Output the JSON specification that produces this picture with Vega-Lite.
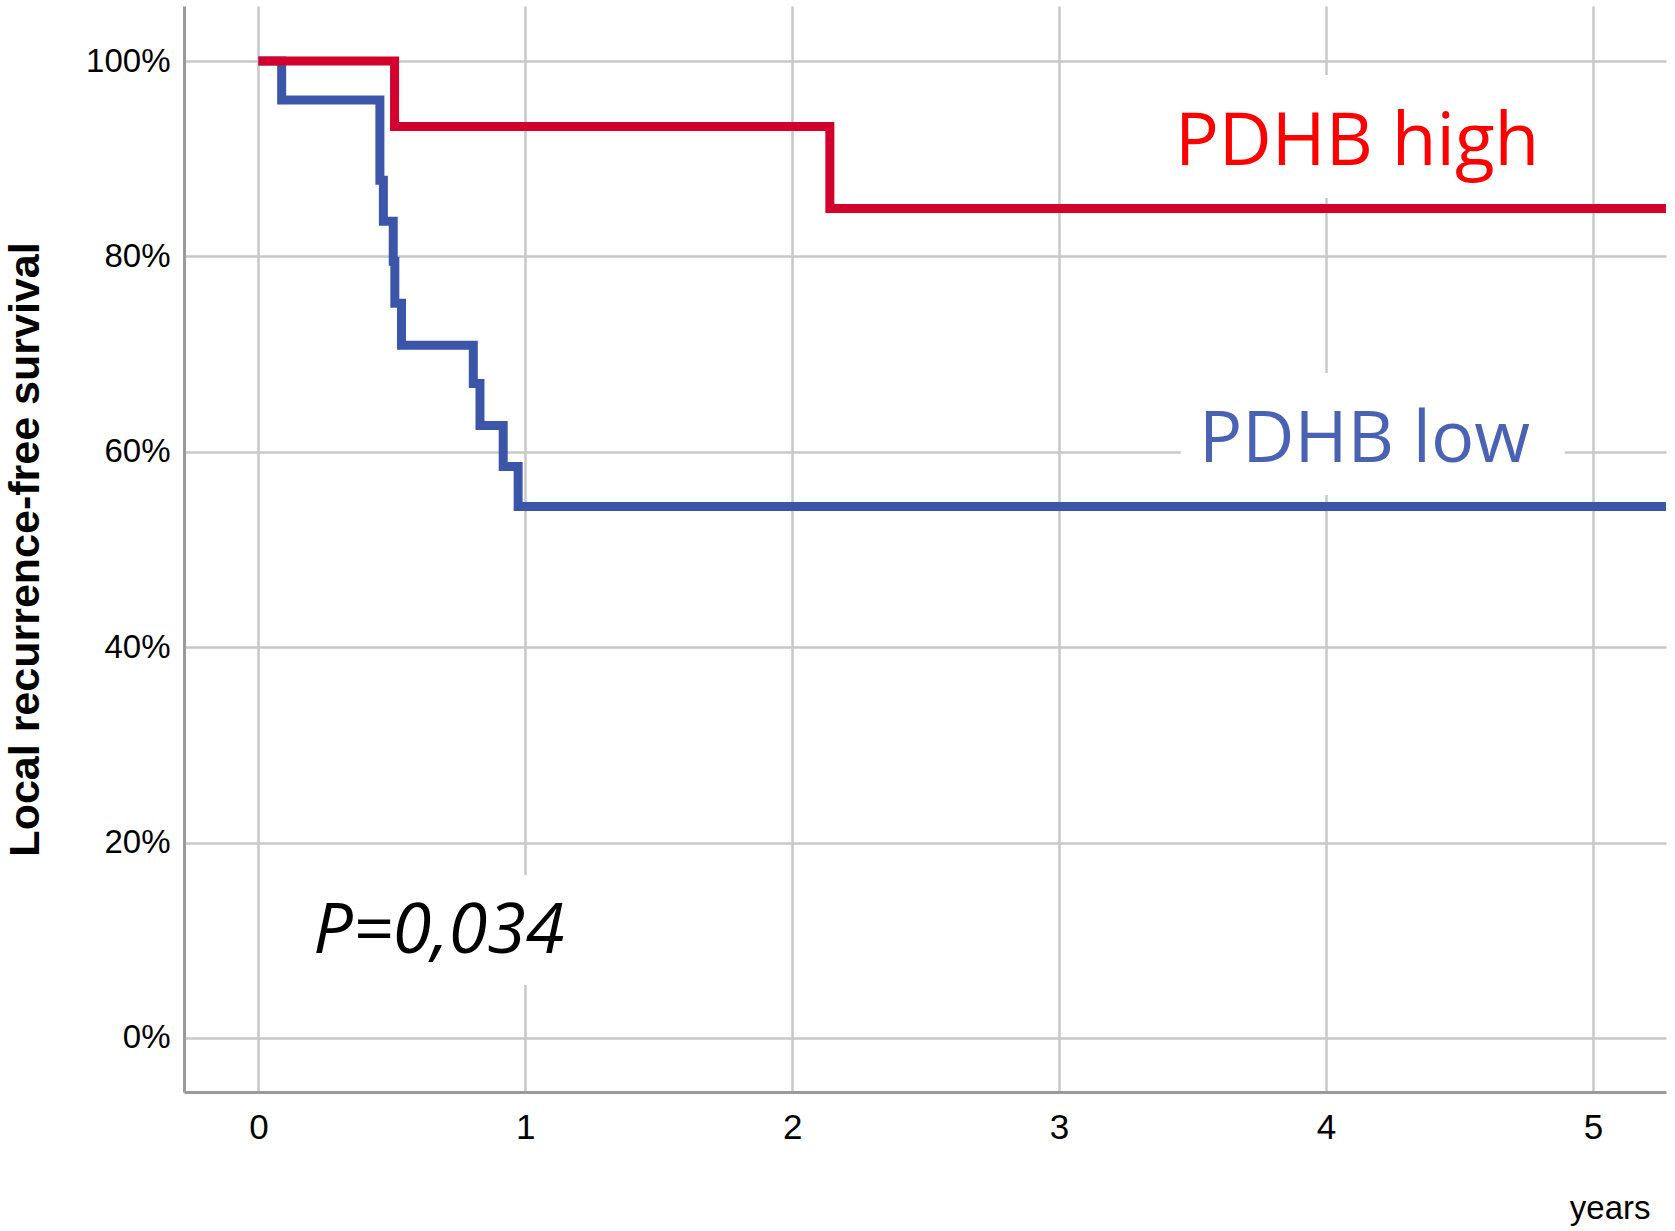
{
  "$schema": "https://vega.github.io/schema/vega-lite/v6.json",
  "width": 1482,
  "height": 1086,
  "autosize": {"type": "none"},
  "padding": {"left": 184, "top": 6, "right": 9, "bottom": 139},
  "background": "white",
  "config": {
    "view": {"stroke": null},
    "axis": {
      "gridColor": "#c8c8c8",
      "gridWidth": 2.5,
      "domainColor": "#9a9a9a",
      "domainWidth": 3,
      "ticks": false,
      "labelFont": "Liberation Sans",
      "labelColor": "#000000",
      "titleFont": "Liberation Sans",
      "titleColor": "#000000"
    }
  },
  "datasets": {
    "curves": [
      {"group": "low", "t": 0, "s": 1},
      {"group": "low", "t": 0.087, "s": 0.96},
      {"group": "low", "t": 0.455, "s": 0.878},
      {"group": "low", "t": 0.468, "s": 0.836},
      {"group": "low", "t": 0.505, "s": 0.795},
      {"group": "low", "t": 0.511, "s": 0.752},
      {"group": "low", "t": 0.536, "s": 0.709},
      {"group": "low", "t": 0.805, "s": 0.67},
      {"group": "low", "t": 0.83, "s": 0.627},
      {"group": "low", "t": 0.917, "s": 0.585},
      {"group": "low", "t": 0.973, "s": 0.544},
      {"group": "low", "t": 5.274, "s": 0.544},
      {"group": "high", "t": 0, "s": 1},
      {"group": "high", "t": 0.51, "s": 0.933},
      {"group": "high", "t": 2.141, "s": 0.849},
      {"group": "high", "t": 5.274, "s": 0.849}
    ],
    "boxes": [
      {"x": 3.378, "x2": 4.876, "y": 0.9857, "y2": 0.8598},
      {"x": 3.456, "x2": 4.895, "y": 0.6807, "y2": 0.5558},
      {"x": 0.156, "x2": 1.204, "y": 0.1668, "y2": 0.0542}
    ],
    "labels": [
      {"text": "PDHB high", "x": 3.434, "y": 0.8936, "kind": "high"},
      {"text": "PDHB low", "x": 3.524, "y": 0.5899, "kind": "low"}
    ],
    "pvalue": [
      {"text": "P=0,034", "x": 0.205, "y": 0.087}
    ]
  },
  "layer": [
    {
      "data": {"name": "boxes"},
      "mark": {"type": "rect", "fill": "white", "stroke": null},
      "encoding": {
        "x": {
          "field": "x", "type": "quantitative",
          "scale": {"domain": [-0.279, 5.274], "nice": false, "zero": false},
          "axis": {
            "values": [0, 1, 2, 3, 4, 5],
            "format": "d",
            "labelFontSize": 35,
            "labelPadding": 18,
            "title": "years",
            "titleFontSize": 33,
            "titleFontWeight": "normal",
            "titleX": 1466,
            "titleY": 126,
            "titleAlign": "right",
            "titleBaseline": "alphabetic"
          }
        },
        "x2": {"field": "x2"},
        "y": {
          "field": "y", "type": "quantitative",
          "scale": {"domain": [-0.0553, 1.0563], "nice": false, "zero": false},
          "axis": {
            "values": [0, 0.2, 0.4, 0.6, 0.8, 1],
            "format": ".0%",
            "labelFontSize": 33,
            "labelPadding": 14,
            "title": "Local recurrence-free survival",
            "titleFontSize": 43,
            "titleFontWeight": "bold",
            "titleX": -146,
            "titleBaseline": "alphabetic"
          }
        },
        "y2": {"field": "y2"}
      }
    },
    {
      "data": {"name": "curves"},
      "transform": [{"filter": "datum.group === 'low'"}],
      "mark": {"type": "line", "interpolate": "step-after", "color": "#3b56a9", "strokeWidth": 9, "strokeJoin": "miter", "strokeCap": "butt"},
      "encoding": {
        "x": {"field": "t", "type": "quantitative"},
        "y": {"field": "s", "type": "quantitative"}
      }
    },
    {
      "data": {"name": "curves"},
      "transform": [{"filter": "datum.group === 'high'"}],
      "mark": {"type": "line", "interpolate": "step-after", "color": "#d3002d", "strokeWidth": 9, "strokeJoin": "miter", "strokeCap": "butt"},
      "encoding": {
        "x": {"field": "t", "type": "quantitative"},
        "y": {"field": "s", "type": "quantitative"}
      }
    },
    {
      "data": {"name": "labels"},
      "mark": {"type": "text", "align": "left", "baseline": "alphabetic", "font": "Open Sans"},
      "encoding": {
        "x": {"field": "x", "type": "quantitative"},
        "y": {"field": "y", "type": "quantitative"},
        "text": {"field": "text"},
        "color": {
          "field": "kind", "type": "nominal",
          "scale": {"domain": ["high", "low"], "range": ["#ff0000", "#4a62b3"]},
          "legend": null
        },
        "size": {
          "field": "kind", "type": "nominal",
          "scale": {"domain": ["high", "low"], "range": [73, 72]},
          "legend": null
        }
      }
    },
    {
      "data": {"name": "pvalue"},
      "mark": {"type": "text", "align": "left", "baseline": "alphabetic", "font": "Open Sans", "fontStyle": "italic", "fontSize": 70, "color": "#000000"},
      "encoding": {
        "x": {"field": "x", "type": "quantitative"},
        "y": {"field": "y", "type": "quantitative"},
        "text": {"field": "text"}
      }
    }
  ]
}
